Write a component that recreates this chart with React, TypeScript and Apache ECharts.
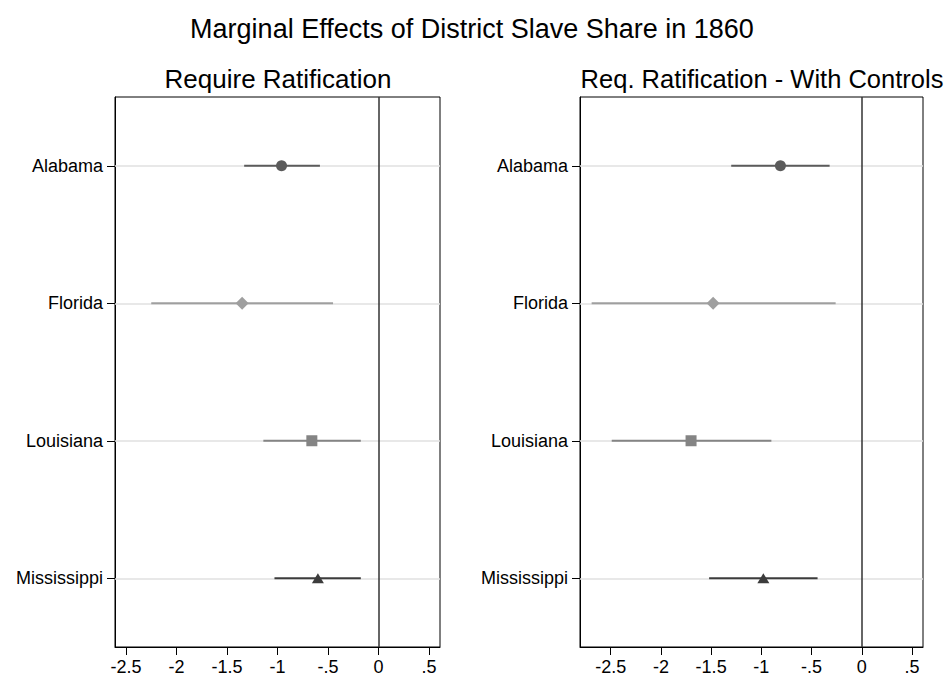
import React, { useEffect, useRef } from "react";
import * as echarts from "echarts";

const categories = ["Alabama", "Florida", "Louisiana", "Mississippi"];

// Panel 1: Require Ratification
const est1 = [-0.96, -1.35, -0.66, -0.6];
const lo1 = [-1.33, -2.25, -1.14, -1.03];
const hi1 = [-0.58, -0.45, -0.175, -0.175];

// Panel 2: Req. Ratification - With Controls
const est2 = [-0.81, -1.48, -1.7, -0.98];
const lo2 = [-1.3, -2.69, -2.49, -1.52];
const hi2 = [-0.32, -0.26, -0.9, -0.44];

const tickValues = [-2.5, -2, -1.5, -1, -0.5, 0, 0.5];
const tickLabels = ["-2.5", "-2", "-1.5", "-1", "-.5", "0", ".5"];

const mainTitle = "Marginal Effects of District Slave Share in 1860";
const panelTitles = ["Require Ratification", "Req. Ratification - With Controls"];

const symbols = ["circle", "diamond", "rect", "triangle"];
const symbolSizes: any[] = [11, 13, 11, [12, 10]];
const colors = ["#5b5b5b", "#9f9f9f", "#848484", "#3c3c3c"];

const FONT = "'Liberation Sans', Arial, Helvetica, sans-serif";

export default function App() {
  const ref = useRef<HTMLDivElement>(null);

  useEffect(() => {
    if (!ref.current) return;
    const chart = echarts.init(ref.current, undefined, { renderer: "svg" });

    const grids = [
      { left: 115, top: 97, width: 325, height: 550 },
      { left: 580, top: 97, width: 343, height: 550 },
    ];
    const ranges = [
      [-2.609, 0.609],
      [-2.806, 0.61],
    ];
    const panels = [
      { est: est1, lo: lo1, hi: hi1 },
      { est: est2, lo: lo2, hi: hi2 },
    ];

    const fmt = (v: number) => {
      for (let i = 0; i < tickValues.length; i++) {
        if (Math.abs(tickValues[i] - v) < 1e-6) return tickLabels[i];
      }
      return "";
    };

    const xAxis = grids.map((_, i) => ({
      type: "value",
      gridIndex: i,
      min: ranges[i][0],
      max: ranges[i][1],
      axisLine: { show: true, onZero: false, lineStyle: { color: "#000", width: 1 } },
      axisTick: {
        show: true,
        length: 8,
        customValues: tickValues,
        lineStyle: { color: "#000", width: 1 },
      },
      axisLabel: {
        customValues: tickValues,
        formatter: fmt,
        fontSize: 18,
        color: "#000",
        fontFamily: FONT,
        margin: 11,
      },
      splitLine: { show: false },
    }));

    const yAxis = grids.map((_, i) => ({
      type: "category",
      gridIndex: i,
      data: categories,
      inverse: true,
      boundaryGap: true,
      axisLine: { show: true, onZero: false, lineStyle: { color: "#000", width: 1 } },
      axisTick: { show: true, alignWithLabel: true, length: 8, lineStyle: { color: "#000" } },
      axisLabel: { fontSize: 18, color: "#000", fontFamily: FONT, margin: 12 },
      splitLine: { show: false },
    }));

    const series: any[] = [];
    panels.forEach((p, i) => {
      // gridline host
      series.push({
        type: "scatter",
        xAxisIndex: i,
        yAxisIndex: i,
        data: p.est.map((v, k) => [v, categories[k]]),
        symbolSize: 0,
        silent: true,
        z: 1,
        markLine: {
          silent: true,
          z: 1,
          symbol: ["none", "none"],
          label: { show: false },
          lineStyle: { color: "#e1e1e1", width: 1.5, type: "solid" },
          data: categories.map((c) => ({ yAxis: c })),
        },
      });
      // error bars
      series.push({
        type: "custom",
        xAxisIndex: i,
        yAxisIndex: i,
        z: 3,
        data: p.lo.map((l, k) => [l, p.hi[k], k]),
        encode: { x: [0, 1], y: 2 },
        renderItem: (params: any, api: any) => {
          const k = api.value(2);
          const a = api.coord([api.value(0), k]);
          const b = api.coord([api.value(1), k]);
          return {
            type: "line",
            shape: { x1: a[0], y1: a[1], x2: b[0], y2: b[1] },
            style: { stroke: colors[k], lineWidth: 2 },
          };
        },
      });
      // point estimates + zero line
      series.push({
        type: "scatter",
        xAxisIndex: i,
        yAxisIndex: i,
        z: 4,
        data: p.est.map((v, k) => ({
          value: [v, categories[k]],
          symbol: symbols[k],
          symbolSize: symbolSizes[k],
          itemStyle: { color: colors[k], opacity: 1 },
        })),
        markLine: {
          silent: true,
          z: 6,
          symbol: ["none", "none"],
          label: { show: false },
          lineStyle: { color: "#333", width: 1.5, type: "solid" },
          data: [{ xAxis: 0 }],
        },
      });
    });

    chart.setOption({
      animation: false,
      backgroundColor: "#fff",
      grid: grids.map((g) => ({
        ...g,
        show: true,
        borderColor: "#000",
        borderWidth: 1,
        backgroundColor: "transparent",
        containLabel: false,
      })),
      xAxis,
      yAxis,
      series,
      graphic: [
        {
          type: "text",
          x: 472,
          y: 29,
          style: {
            text: mainTitle,
            fontSize: 27,
            fontFamily: FONT,
            fill: "#000",
            align: "center",
            verticalAlign: "middle",
          },
        },
        {
          type: "text",
          x: 278,
          y: 79,
          style: {
            text: panelTitles[0],
            fontSize: 26,
            fontFamily: FONT,
            fill: "#000",
            align: "center",
            verticalAlign: "middle",
          },
        },
        {
          type: "text",
          x: 762,
          y: 79,
          style: {
            text: panelTitles[1],
            fontSize: 25.5,
            fontFamily: FONT,
            fill: "#000",
            align: "center",
            verticalAlign: "middle",
          },
        },
      ],
    });

    return () => chart.dispose();
  }, []);

  return (
    <div
      ref={ref}
      style={{ position: "absolute", left: 0, top: 0, width: 945, height: 677 }}
    />
  );
}
